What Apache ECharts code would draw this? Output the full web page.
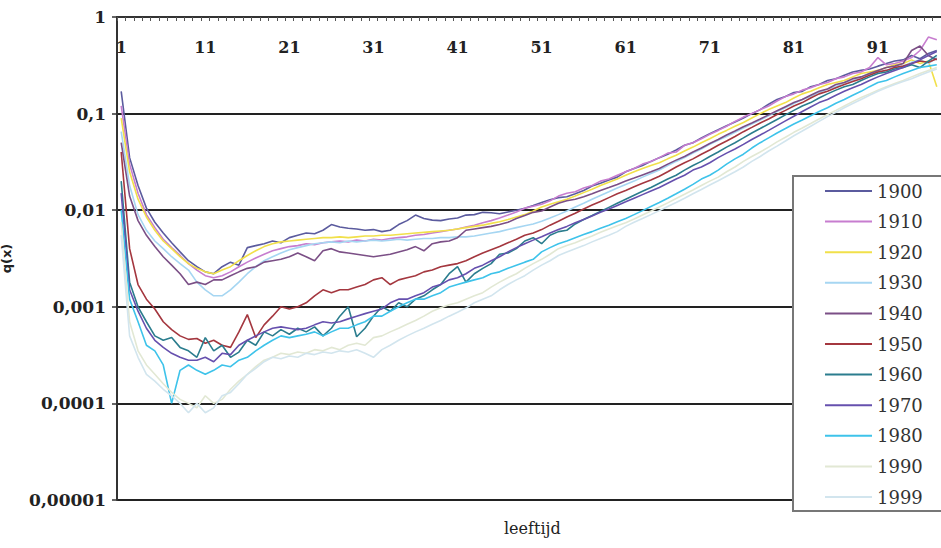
<!DOCTYPE html>
<html>
<head>
<meta charset="utf-8">
<script src="https://cdn.jsdelivr.net/npm/echarts@6/dist/echarts.min.js"></script>
<style>
html,body{margin:0;padding:0;background:#fff;}
#chart{width:941px;height:548px;}
</style>
</head>
<body>
<div id="chart"></div>
<script>
const ages = [1,2,3,4,5,6,7,8,9,10,11,12,13,14,15,16,17,18,19,20,21,22,23,24,25,26,27,28,29,30,
31,32,33,34,35,36,37,38,39,40,41,42,43,44,45,46,47,48,49,50,51,52,53,54,55,56,57,58,59,60,
61,62,63,64,65,66,67,68,69,70,71,72,73,74,75,76,77,78,79,80,81,82,83,84,85,86,87,88,89,90,
91,92,93,94,95,96,97,98];

const yTickLabels = ['0,00001','0,0001','0,001','0,01','0,1','1'];
const seriesNames = ['1900','1910','1920','1930','1940','1950','1960','1970','1980','1990','1999'];

const q1900 = [
0.17,0.035,0.018,0.0105,0.0075,0.0058,0.0046,0.0037,0.003,0.0026,
0.0023,0.0022,0.0026,0.0029,0.0027,0.0041,0.0043,0.0045,0.0048,0.0046,
0.0052,0.0055,0.0058,0.0057,0.0062,0.0071,0.0067,0.0065,0.0064,0.0062,
0.0063,0.006,0.0062,0.0071,0.0078,0.0089,0.0082,0.0079,0.0078,0.0081,
0.0083,0.0089,0.009,0.0095,0.0094,0.0092,0.0096,0.01,0.0105,0.0112,
0.012,0.0128,0.0135,0.0138,0.0148,0.016,0.0178,0.019,0.0205,0.022,
0.025,0.027,0.029,0.032,0.035,0.038,0.042,0.047,0.05,0.056,
0.062,0.068,0.075,0.082,0.09,0.1,0.11,0.125,0.14,0.15,
0.165,0.17,0.19,0.2,0.22,0.23,0.25,0.27,0.28,0.29,
0.31,0.33,0.35,0.36,0.4,0.37,0.42,0.45];

const q1910 = [
0.12,0.03,0.015,0.009,0.0066,0.005,0.0041,0.0034,0.0028,0.0024,
0.0021,0.002,0.0021,0.0023,0.0026,0.0029,0.0032,0.0035,0.0038,0.004,
0.0042,0.0043,0.0045,0.0044,0.0046,0.0047,0.0048,0.0047,0.0049,0.0048,
0.005,0.0049,0.0051,0.0052,0.0053,0.0055,0.0056,0.0058,0.006,0.0062,
0.0064,0.0067,0.007,0.0074,0.0078,0.0083,0.0089,0.0096,0.0105,0.011,
0.0115,0.0125,0.014,0.015,0.0155,0.017,0.018,0.02,0.021,0.023,
0.025,0.027,0.03,0.032,0.035,0.039,0.04,0.047,0.05,0.055,
0.061,0.067,0.074,0.083,0.092,0.1,0.11,0.12,0.135,0.15,
0.16,0.175,0.185,0.2,0.21,0.23,0.24,0.26,0.27,0.3,
0.38,0.32,0.33,0.35,0.38,0.45,0.62,0.58];

const q1920 = [
0.09,0.025,0.013,0.0085,0.0062,0.0048,0.004,0.0033,0.0028,0.0025,
0.0023,0.0022,0.0024,0.0026,0.003,0.0034,0.0038,0.0042,0.0045,0.0047,
0.0048,0.0049,0.005,0.0051,0.0052,0.0052,0.0053,0.0052,0.0053,0.0054,
0.0054,0.0055,0.0055,0.0056,0.0057,0.0058,0.0059,0.006,0.0061,0.0062,
0.0064,0.0066,0.0068,0.007,0.0073,0.0076,0.008,0.0085,0.009,0.0098,
0.0108,0.0115,0.0122,0.013,0.014,0.0152,0.0165,0.018,0.0195,0.021,
0.023,0.025,0.027,0.029,0.031,0.034,0.037,0.041,0.045,0.05,
0.055,0.061,0.067,0.074,0.081,0.09,0.1,0.11,0.12,0.13,
0.145,0.16,0.17,0.185,0.2,0.21,0.22,0.24,0.26,0.27,
0.28,0.3,0.32,0.33,0.36,0.33,0.35,0.19];

const q1930 = [
0.065,0.018,0.009,0.0062,0.0048,0.004,0.0033,0.0028,0.0024,0.0018,
0.0015,0.0013,0.0013,0.0015,0.0018,0.0022,0.0026,0.003,0.0033,0.0036,
0.0039,0.0041,0.0043,0.0045,0.0046,0.0047,0.0046,0.0048,0.0047,0.0048,
0.0049,0.0048,0.0049,0.005,0.0049,0.005,0.0051,0.0051,0.0052,0.0052,
0.0053,0.0053,0.0054,0.0056,0.0058,0.006,0.0063,0.0066,0.0069,0.0072,
0.0077,0.0083,0.009,0.0098,0.0108,0.0118,0.013,0.0142,0.0155,0.017,
0.0185,0.02,0.022,0.024,0.026,0.029,0.032,0.035,0.039,0.043,
0.048,0.053,0.058,0.064,0.071,0.078,0.086,0.095,0.105,0.115,
0.127,0.14,0.15,0.165,0.18,0.19,0.21,0.22,0.24,0.26,
0.27,0.28,0.3,0.31,0.34,0.36,0.33,0.38];

const q1940 = [
0.05,0.014,0.0078,0.0055,0.0042,0.0033,0.0027,0.0022,0.0017,0.0018,
0.0017,0.0019,0.0019,0.0021,0.0023,0.0025,0.0026,0.0029,0.003,0.0031,
0.0033,0.0036,0.0033,0.003,0.0038,0.004,0.0037,0.0036,0.0035,0.0034,
0.0033,0.0034,0.0035,0.0037,0.0039,0.0042,0.0038,0.0045,0.0047,0.0048,
0.0052,0.0062,0.0064,0.0066,0.0068,0.0071,0.0075,0.0082,0.0088,0.0095,
0.0098,0.0108,0.0118,0.0125,0.013,0.0138,0.0148,0.016,0.0172,0.0185,
0.02,0.0215,0.0232,0.025,0.027,0.03,0.033,0.036,0.04,0.044,
0.049,0.054,0.06,0.066,0.073,0.08,0.088,0.097,0.107,0.118,
0.13,0.14,0.155,0.17,0.18,0.2,0.21,0.23,0.24,0.26,
0.28,0.3,0.31,0.33,0.45,0.5,0.4,0.36];

const q1950 = [
0.04,0.004,0.0017,0.0012,0.00095,0.0007,0.00058,0.0005,0.00046,0.00047,
0.00042,0.00045,0.0004,0.00038,0.00055,0.00083,0.00048,0.00065,0.0008,0.001,
0.00095,0.001,0.0011,0.0013,0.0015,0.0014,0.0015,0.0015,0.0016,0.0017,
0.0019,0.002,0.0017,0.0019,0.002,0.0021,0.0023,0.0024,0.0026,0.0027,
0.0028,0.003,0.0033,0.0036,0.0039,0.0042,0.0046,0.005,0.0055,0.0058,
0.0063,0.007,0.0077,0.0085,0.0093,0.0103,0.0113,0.0123,0.0135,0.0148,
0.016,0.0175,0.019,0.0205,0.0225,0.025,0.028,0.031,0.034,0.038,
0.042,0.047,0.052,0.058,0.065,0.072,0.08,0.088,0.098,0.108,
0.12,0.13,0.145,0.16,0.17,0.185,0.2,0.215,0.23,0.25,
0.27,0.28,0.3,0.31,0.33,0.35,0.34,0.37];

const q1960 = [
0.02,0.0018,0.001,0.0007,0.0005,0.00045,0.00048,0.00038,0.00035,0.0003,
0.00048,0.00035,0.0004,0.0003,0.00034,0.00045,0.0004,0.00055,0.0005,0.00058,
0.00052,0.0006,0.00055,0.00062,0.0005,0.0006,0.0008,0.001,0.00049,0.0006,
0.0008,0.001,0.0009,0.0011,0.001,0.0012,0.0013,0.0015,0.0017,0.0022,
0.0026,0.0018,0.0022,0.0025,0.0028,0.0035,0.0036,0.004,0.0048,0.0052,
0.0045,0.0055,0.006,0.0062,0.0072,0.008,0.0088,0.0097,0.0107,0.0118,
0.013,0.0143,0.0157,0.0172,0.019,0.021,0.023,0.026,0.029,0.032,
0.036,0.04,0.045,0.05,0.056,0.063,0.07,0.078,0.087,0.097,
0.108,0.12,0.13,0.145,0.16,0.175,0.19,0.2,0.22,0.24,
0.26,0.27,0.29,0.3,0.32,0.3,0.35,0.4];

const q1970 = [
0.015,0.0015,0.0009,0.0006,0.00045,0.00038,0.00033,0.0003,0.00028,0.00028,
0.0003,0.00027,0.00033,0.00032,0.0004,0.00045,0.0005,0.00055,0.0006,0.00062,
0.0006,0.00058,0.0006,0.00065,0.0007,0.00068,0.0007,0.00075,0.0008,0.00085,
0.0009,0.00095,0.0011,0.0012,0.0012,0.0013,0.0014,0.0016,0.0017,0.0019,
0.002,0.0022,0.0025,0.0027,0.003,0.0033,0.0037,0.0041,0.0045,0.0049,
0.0053,0.0058,0.0063,0.0068,0.0074,0.008,0.0087,0.0095,0.0103,0.0112,
0.0122,0.0133,0.0145,0.0158,0.0172,0.019,0.021,0.023,0.026,0.028,
0.031,0.035,0.039,0.043,0.048,0.054,0.06,0.067,0.075,0.084,
0.094,0.105,0.117,0.13,0.14,0.155,0.17,0.185,0.2,0.22,
0.24,0.26,0.28,0.3,0.33,0.36,0.4,0.44];

const q1980 = [
0.01,0.0012,0.0007,0.0004,0.00035,0.00025,0.0001,0.00022,0.00025,0.00022,
0.0002,0.00022,0.00025,0.00024,0.00028,0.0003,0.00035,0.0004,0.00045,0.0005,
0.00048,0.0005,0.00052,0.00055,0.0005,0.00055,0.0006,0.0006,0.00065,0.0007,
0.0008,0.0008,0.0009,0.001,0.0011,0.0012,0.0012,0.0013,0.0014,0.0016,
0.0017,0.0018,0.0019,0.002,0.0022,0.0023,0.0025,0.0027,0.0029,0.0031,
0.0037,0.0041,0.0045,0.0048,0.0052,0.0056,0.006,0.0065,0.007,0.0076,
0.0082,0.009,0.0099,0.0109,0.012,0.0133,0.0148,0.0165,0.0185,0.021,
0.023,0.026,0.03,0.034,0.038,0.044,0.05,0.056,0.063,0.07,
0.078,0.086,0.095,0.105,0.115,0.128,0.14,0.155,0.17,0.19,
0.21,0.22,0.24,0.26,0.28,0.3,0.31,0.32];

const q1990 = [
0.0075,0.0007,0.00035,0.00025,0.0002,0.00016,0.00013,0.00011,0.0001,0.00009,
0.00012,0.0001,0.00011,0.00014,0.00017,0.0002,0.00024,0.00028,0.0003,0.00033,
0.00032,0.00034,0.00033,0.00036,0.00035,0.00038,0.00036,0.0004,0.00042,0.0004,
0.00048,0.0005,0.00055,0.0006,0.00066,0.00072,0.0008,0.0009,0.00098,0.00105,
0.0011,0.0012,0.0013,0.0014,0.0016,0.0018,0.002,0.0022,0.0025,0.0028,
0.0031,0.0035,0.004,0.0043,0.0046,0.005,0.0054,0.0059,0.0064,0.0069,
0.0074,0.0081,0.0089,0.0098,0.0108,0.0119,0.0132,0.0146,0.0162,0.018,
0.02,0.022,0.025,0.028,0.032,0.036,0.04,0.045,0.051,0.057,
0.064,0.071,0.079,0.088,0.098,0.108,0.12,0.133,0.147,0.16,
0.175,0.19,0.205,0.22,0.24,0.26,0.28,0.3];

const q1999 = [
0.0055,0.0005,0.0003,0.0002,0.00017,0.00014,0.00012,0.0001,0.00008,0.0001,
0.00008,0.00009,0.00012,0.00013,0.00016,0.0002,0.00023,0.00027,0.0003,0.00029,
0.00031,0.0003,0.00033,0.00032,0.00034,0.00033,0.00035,0.00034,0.00036,0.00033,
0.0003,0.00036,0.0004,0.00045,0.0005,0.00055,0.0006,0.00066,0.00072,0.0008,
0.00088,0.00097,0.0011,0.0012,0.0013,0.0015,0.0017,0.0019,0.0021,0.0024,
0.0027,0.003,0.0034,0.0037,0.004,0.0043,0.0047,0.0051,0.0055,0.006,
0.0068,0.0075,0.0082,0.009,0.0099,0.0109,0.012,0.0133,0.0148,0.0164,
0.0182,0.0202,0.0225,0.025,0.028,0.032,0.036,0.041,0.046,0.052,
0.059,0.066,0.074,0.083,0.093,0.103,0.115,0.127,0.14,0.155,
0.17,0.185,0.2,0.215,0.23,0.25,0.27,0.29];

const seriesData = [q1900,q1910,q1920,q1930,q1940,q1950,q1960,q1970,q1980,q1990,q1999];
const seriesColors = ['#5b5b9e','#c77dcf','#f1e04a','#a6d6f2','#7b4f86','#a4373f','#2b7d8e','#6650ae','#3ec3ea','#e2e8d4','#d2e5ee'];

const chart = echarts.init(document.getElementById('chart'), null, {renderer:'svg'});
const serif = 'DejaVu Serif';

chart.setOption({
  animation: false,
  backgroundColor: '#ffffff',
  grid: {left:117, right:0, top:17, bottom:48, containLabel:false, outerBoundsMode:'none'},
  xAxis: {
    type:'category',
    position:'top',
    data: ages,
    boundaryGap:true,
    axisLine:{show:true, lineStyle:{color:'#333', width:2}},
    axisTick:{show:true, interval:0, inside:true, length:4, lineStyle:{color:'#555', width:1}},
    axisLabel:{show:true, inside:true, interval:9, margin:22, fontFamily:serif, fontWeight:'bold', fontSize:16, color:'#222'},
    splitLine:{show:false}
  },
  yAxis: {
    type:'log',
    logBase:10,
    min:0.00001,
    max:1,
    name:'q(x)',
    nameLocation:'middle',
    nameGap:104,
    nameRotate:90,
    nameTextStyle:{fontFamily:'DejaVu Sans', fontWeight:'bold', fontSize:13, color:'#222'},
    axisLine:{show:true, lineStyle:{color:'#333', width:2}},
    axisTick:{show:true, length:5, lineStyle:{color:'#333', width:1.5}},
    axisLabel:{
      margin:11, fontFamily:serif, fontWeight:'bold', fontSize:17, color:'#222',
      formatter: function(v){ const i = Math.round(Math.log10(v)) + 5; return yTickLabels[i] || ''; }
    },
    minorTick:{show:false},
    splitLine:{show:true, lineStyle:{color:'#222', width:2}}
  },
  legend: {
    orient:'vertical',
    left:793, top:176,
    padding:[6, 40, 5, 32],
    itemGap:12.6,
    itemWidth:47, itemHeight:2,
    icon:'rect',
    backgroundColor:'#ffffff',
    borderColor:'#777',
    borderWidth:2,
    borderRadius:0,
    textStyle:{fontFamily:serif, fontSize:18, lineHeight:18, color:'#333'},
    data: seriesNames
  },
  graphic: [{
    type:'text', left: 504, top: 520,
    style:{text:'leeftijd', font:'16px "DejaVu Serif"', fill:'#222'}
  }],
  series: seriesNames.map(function(n, i){
    return {
      name:n, type:'line', data: seriesData[i],
      symbol:'none', showSymbol:false, smooth:false,
      lineStyle:{width:1.6, color: seriesColors[i]},
      itemStyle:{color: seriesColors[i]},
      emphasis:{disabled:true}
    };
  })
});
</script>
</body>
</html>
